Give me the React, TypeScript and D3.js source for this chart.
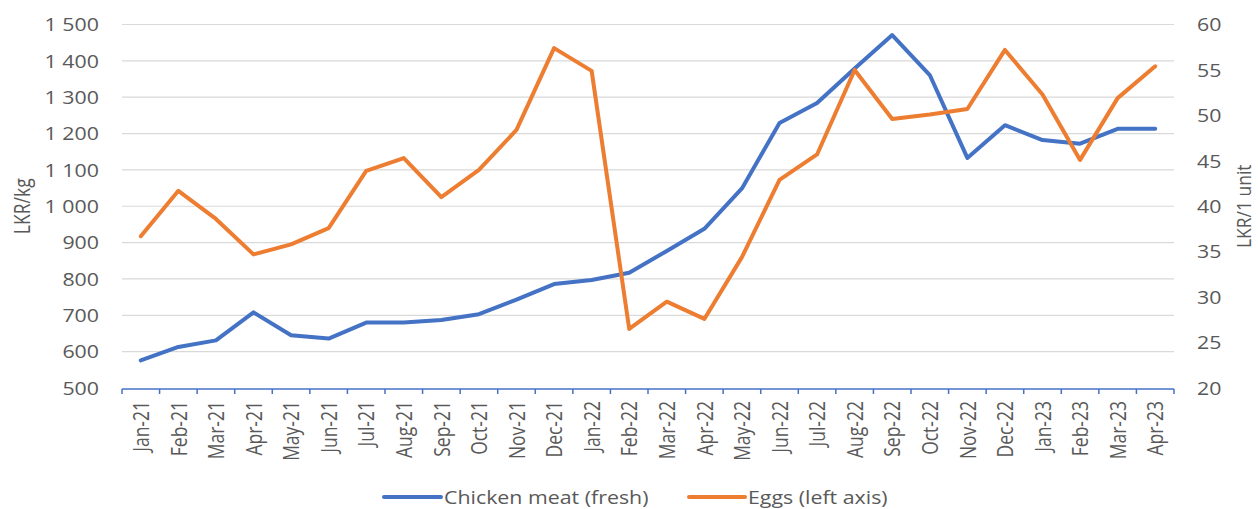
import React from "react";
import * as d3 from "d3";

const months = ["Jan-21","Feb-21","Mar-21","Apr-21","May-21","Jun-21","Jul-21","Aug-21","Sep-21","Oct-21","Nov-21","Dec-21","Jan-22","Feb-22","Mar-22","Apr-22","May-22","Jun-22","Jul-22","Aug-22","Sep-22","Oct-22","Nov-22","Dec-22","Jan-23","Feb-23","Mar-23","Apr-23"];
const chicken = [576,613,631,708,645,636,680,680,687,703,743,786,797,817,877,938,1049,1229,1284,1379,1471,1361,1133,1223,1182,1172,1213,1213];
const eggs = [36.7,41.7,38.6,34.7,35.8,37.6,43.9,45.3,41.0,44.0,48.4,57.4,54.9,26.5,29.5,27.6,34.4,42.9,45.7,55.0,49.6,50.1,50.7,57.2,52.3,45.1,51.9,55.4];
const leftTicks = [500,600,700,800,900,1000,1100,1200,1300,1400,1500];
const rightTicks = [20,25,30,35,40,45,50,55,60];
const seriesNames = ["Chicken meat (fresh)", "Eggs (left axis)"];
const leftTitle = "LKR/kg";
const rightTitle = "LKR/1 unit";

const W = 1258, H = 509;
const M = { left: 122, right: 1174, top: 24.5, bottom: 388 };
const BLUE = "#4472C4", ORANGE = "#ED7D31", TXT = "#595959", GRID = "#D9D9D9";
const FONT = "'Open Sans', sans-serif";
const FS = 17.5;
const SX = 1.22;

const fmt = (v: number) => {
  const s = String(v);
  return s.length > 3 ? s.slice(0, s.length - 3) + " " + s.slice(-3) : s;
};

function T({ x, y, rot = 0, anchor = "start", base = "central", sx = SX, children }: any) {
  return (
    <text
      transform={`translate(${x},${y}) scale(${sx},1)${rot ? ` rotate(${rot})` : ""}`}
      textAnchor={anchor}
      dominantBaseline={base}
      fontFamily={FONT}
      fontSize={FS}
      fill={TXT}
    >
      {children}
    </text>
  );
}

export default function App() {
  const x = d3.scaleBand<string>().domain(months).range([M.left, M.right]);
  const yL = d3.scaleLinear().domain([500, 1500]).range([M.bottom, M.top]);
  const yR = d3.scaleLinear().domain([20, 60]).range([M.bottom, M.top]);
  const cx = (i: number) => (x(months[i]) as number) + x.bandwidth() / 2;

  const lineC = d3.line<number>().x((_, i) => cx(i)).y((d) => yL(d));
  const lineE = d3.line<number>().x((_, i) => cx(i)).y((d) => yR(d));

  const boundaries = months.map((m) => x(m) as number).concat([M.right]);

  return (
    <svg width={W} height={H} style={{ position: "absolute", left: 0, top: 0, background: "#fff" }}>
      {leftTicks.slice(1).map((t) => (
        <line key={t} x1={M.left} x2={M.right} y1={yL(t)} y2={yL(t)} stroke={GRID} strokeWidth={1.2} />
      ))}
      {leftTicks.map((t) => (
        <T key={t} x={99} y={yL(t)} anchor="end">{fmt(t)}</T>
      ))}
      {rightTicks.map((t) => (
        <T key={t} x={1197} y={yR(t)} anchor="start">{t}</T>
      ))}
      <T x={22} y={(M.top + M.bottom) / 2} rot={-90} anchor="middle">{leftTitle}</T>
      <T x={1243} y={(M.top + M.bottom) / 2} rot={-90} anchor="middle" sx={1.1}>{rightTitle}</T>

      <line x1={M.left} x2={M.right} y1={M.bottom + 1} y2={M.bottom + 1} stroke={BLUE} strokeWidth={1.5} />
      {boundaries.map((b, i) => (
        <line key={i} x1={b} x2={b} y1={M.bottom + 1} y2={M.bottom + 6} stroke={BLUE} strokeWidth={1.5} />
      ))}
      {months.map((m, i) => (
        <T key={m} x={cx(i)} y={401} rot={-90} anchor="end">{m}</T>
      ))}

      <path d={lineC(chicken) as string} fill="none" stroke={BLUE} strokeWidth={4} strokeLinejoin="round" strokeLinecap="round" />
      <path d={lineE(eggs) as string} fill="none" stroke={ORANGE} strokeWidth={4} strokeLinejoin="round" strokeLinecap="round" />

      <line x1={384} x2={441} y1={497} y2={497} stroke={BLUE} strokeWidth={4} strokeLinecap="round" />
      <T x={444} y={497}>{seriesNames[0]}</T>
      <line x1={689} x2={745} y1={497} y2={497} stroke={ORANGE} strokeWidth={4} strokeLinecap="round" />
      <T x={748} y={497}>{seriesNames[1]}</T>
    </svg>
  );
}
